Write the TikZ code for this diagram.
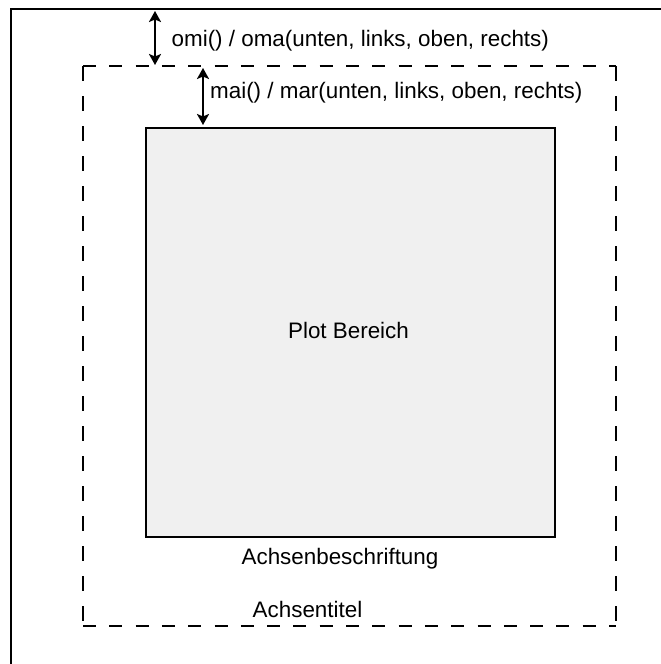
\documentclass[tikz,border=0pt]{standalone}
\usepackage{fontspec}
\setmainfont{Liberation Sans}
\usetikzlibrary{arrows.meta}
\begin{document}
\begin{tikzpicture}[x=1pt,y=-1pt,
  lbl/.style={font=\fontsize{22.4}{26}\selectfont, inner sep=0pt, anchor=base},
  lblw/.style={font=\fontsize{22.4}{26}\selectfont, inner sep=0pt, anchor=base west},
  solidline/.style={line width=2.8pt, black},
  dashh/.style={line width=2.6pt, dash pattern=on 13pt off 13.3pt},
  dashv/.style={line width=2.6pt, dash pattern=on 15pt off 15pt},
  marrow/.style={line width=2.4pt, {Stealth[length=11pt,width=12pt,inset=2.5pt]}-{Stealth[length=11pt,width=12pt,inset=2.5pt]}}]
\useasboundingbox (0,0) rectangle (661,664);
\fill[white] (0,0) rectangle (661,664);
% outer figure region (only top and left edges visible)
\draw[solidline] (11,680) -- (11,9) -- (680,9);
% dashed figure margin box
\coordinate (dtl) at (83,66);
\coordinate (dtr) at (616,66);
\coordinate (dbl) at (83,626);
\coordinate (dbr) at (616,626);
\draw[dashh] (dtl) -- (dtr);
\draw[dashh] (dbl) -- (dbr);
\draw[dashv] (dtl) -- (dbl);
\draw[dashv] (dtr) -- (dbr);
% plot region
\node[draw, line width=2.6pt, fill={rgb,255:red,240;green,240;blue,240}, minimum width=409pt, minimum height=409pt, inner sep=0pt, anchor=north west] (plot) at (144.5,126.8) {};
\node[lbl] (plottxt) at (348.5,338) {Plot Bereich};
% arrows
\coordinate (oa1) at (155,11);
\coordinate (oa2) at (155,65);
\draw[marrow] (oa1) -- (oa2);
\coordinate (ma1) at (203,68);
\coordinate (ma2) at (203,125);
\draw[marrow] (ma1) -- (ma2);
% labels
\node[lblw] (omi) at (171.5,46.5) {omi() / oma(unten, links, oben, rechts)};
\node[lblw] (mai) at (210,98) {mai() / mar(unten, links, oben, rechts)};
\node[lbl] (achsb) at (340,564) {Achsenbeschriftung};
\node[lbl] (achst) at (307.5,617) {Achsentitel};
\end{tikzpicture}
\end{document}
